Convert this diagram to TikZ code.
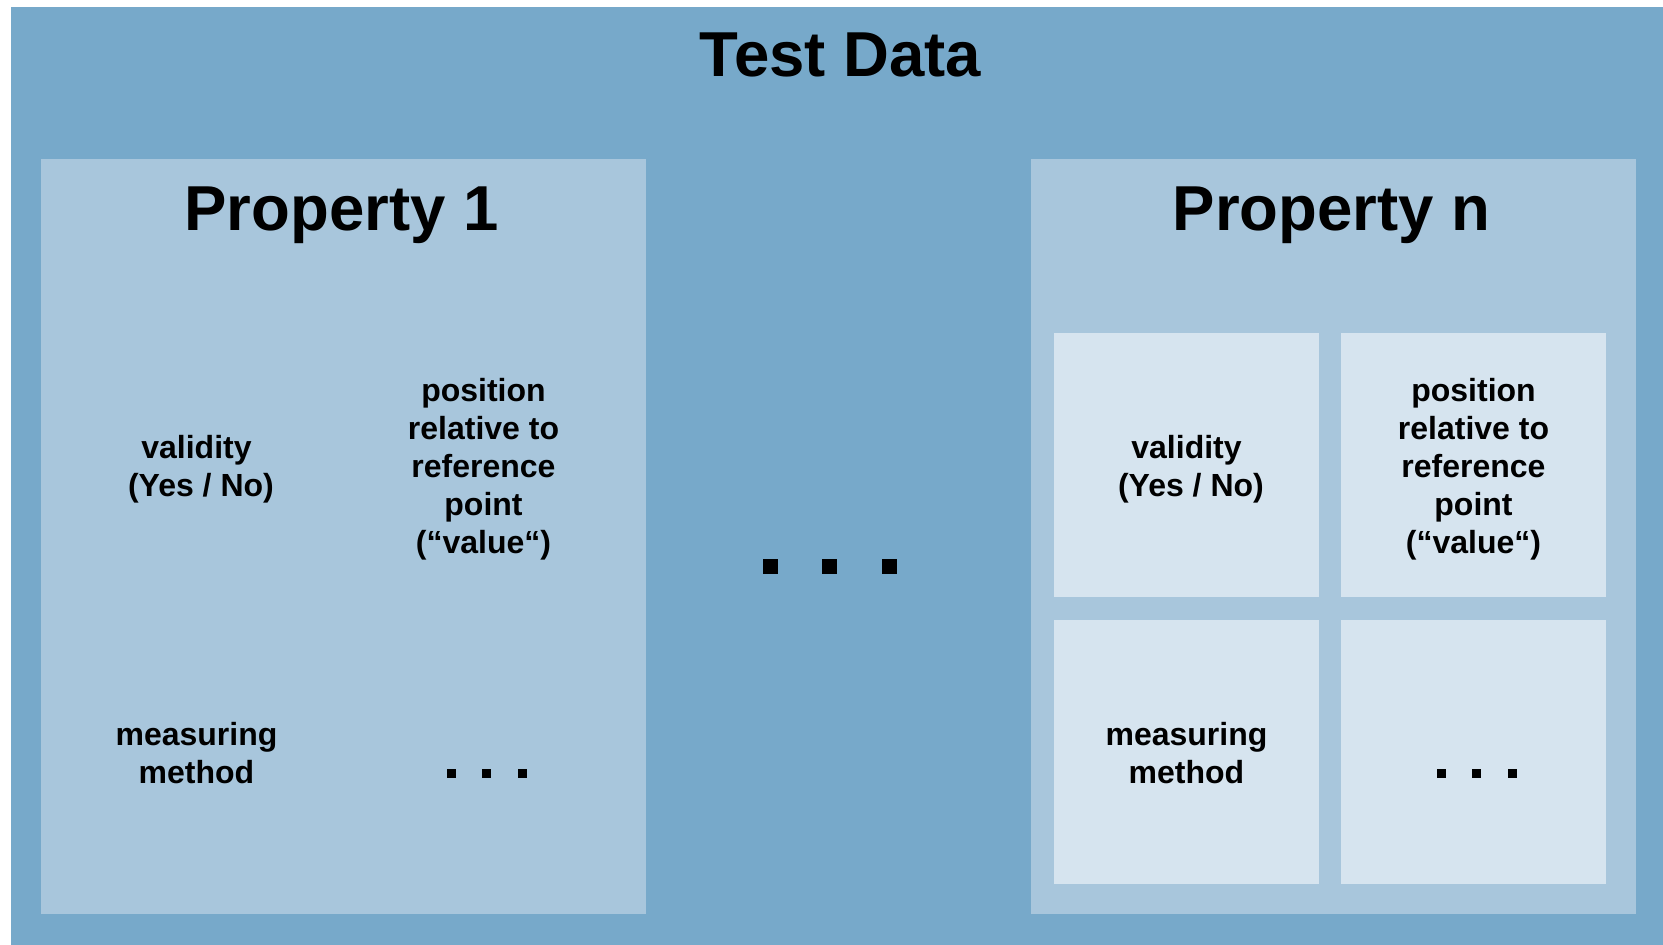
\documentclass[tikz,border=0pt]{standalone}
\usepackage{fontspec}
\setmainfont{Liberation Sans}
\usetikzlibrary{positioning}

\begin{document}
\begin{tikzpicture}[x=1pt, y=-1pt,
    %Option for boxes
    inner sep=0pt, outer sep=0pt,%
    property/.style={fill=propblue, minimum width=605pt, minimum height=755pt, anchor=north west},
    cell/.style={fill=#1, minimum width=265pt, minimum height=264pt},
    cell/.default=cellblue,
    celltext/.style={align=center, font=\fontsize{32}{38}\selectfont\bfseries, yshift=#1},
    title/.style={font=\fontsize{63.5}{70}\selectfont\bfseries, anchor=base},
    dot/.style={fill=black, minimum size=#1},
]
    % Colors
    \definecolor{outerblue}{RGB}{119,169,202}
    \definecolor{propblue}{RGB}{168,198,220}
    \definecolor{cellblue}{RGB}{214,228,239}

    % Frame
    \useasboundingbox (0,0) rectangle (1663,945);
    \fill[outerblue] (11,7) rectangle (1663,945);
    \node[title] (test) at (840.5,76) {Test Data};

    \node[property] (prop1) at (41,159) {};
    \node[property] (propn) at (1031,159) {};
    \node[title] (title1) at (341.5,230) {Property 1};
    \node[title] (titlen) at (1331.5,230) {Property n};

    % Property 1
    \node[cell=propblue, label={[celltext=-4.5pt]center:validity\\\ (Yes / No)}] (valid1) at (196.5,465) {};
    \node[cell=propblue, right=22pt of valid1,
        label={[celltext=-4.5pt]center:position\\relative to\\reference\\point\\(“value“)}] (pos1) {};
    \node[cell=propblue, below=23pt of valid1, label={[celltext=-1.5pt]center:measuring\\method}] (method1) {};
    \node[cell=propblue, below=23pt of pos1] (more1) {};

    % Property n
    \node[cell, label={[celltext=-4.5pt]center:validity\\\ (Yes / No)}] (validn) at (1186.5,465) {};
    \node[cell, right=22pt of validn,
        label={[celltext=-4.5pt]center:position\\relative to\\reference\\point\\(“value“)}] (posn) {};
    \node[cell, below=23pt of validn, label={[celltext=-1.5pt]center:measuring\\method}] (methodn) {};
    \node[cell, below=23pt of posn] (moren) {};

    % Dots
    \foreach \dx in {-32,3,39} {
        \node[dot=9pt] at ([shift={(\dx,21.5)}]more1.center) {};
        \node[dot=9pt] at ([shift={(\dx,21.5)}]moren.center) {};
    }
    \foreach \x in {770.5,829.5,889.5}
        \node[dot=15pt] at (\x,566.5) {};

\end{tikzpicture}
\end{document}
